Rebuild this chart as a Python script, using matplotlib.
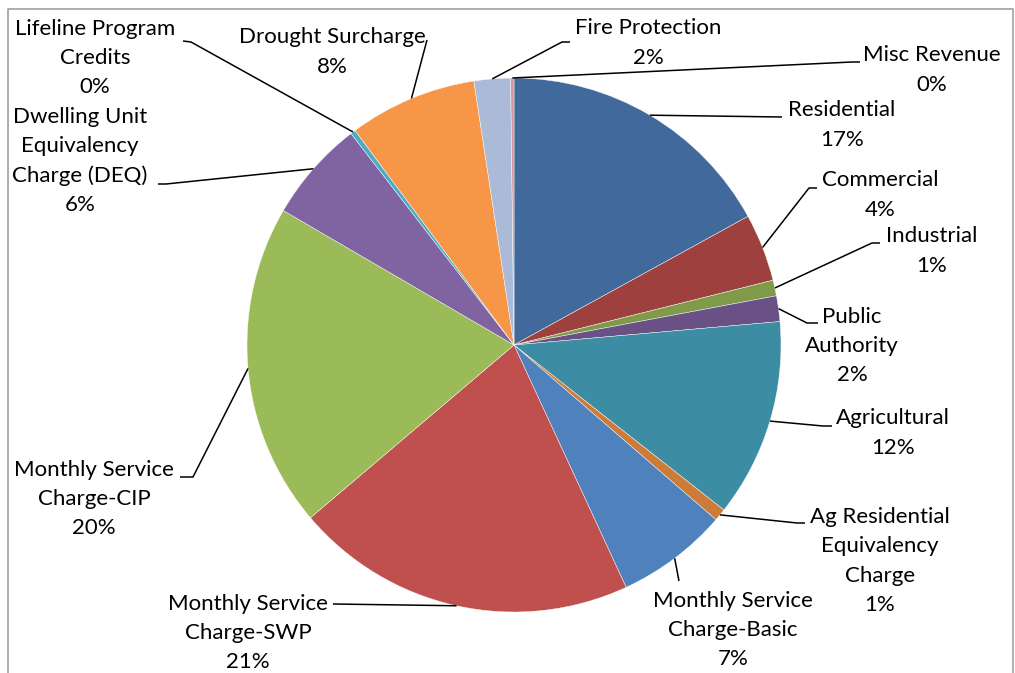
import matplotlib
matplotlib.use('Agg')
import matplotlib.pyplot as plt
import numpy as np

# revenue share by category, in percent (clockwise from 12 o'clock)
categories = [
    "Residential", "Commercial", "Industrial", "Public\nAuthority",
    "Agricultural", "Ag Residential\nEquivalency\nCharge",
    "Monthly Service\nCharge-Basic", "Monthly Service\nCharge-SWP",
    "Monthly Service\nCharge-CIP", "Dwelling Unit\nEquivalency\nCharge (DEQ)",
    "Lifeline Program\nCredits", "Drought Surcharge", "Fire Protection",
    "Misc Revenue",
]
shares = [17.0, 4.1, 0.95, 1.55, 12.0, 0.75, 6.75, 20.7, 19.6, 6.15, 0.3, 7.75, 2.2, 0.2]

colors = ["#41699B", "#9E413E", "#7F9A48", "#695185", "#3C8DA3", "#CC7B38",
          "#4F81BD", "#C0504D", "#9BBB59", "#8064A2", "#4BACC6", "#F79646",
          "#AABAD7", "#D99694"]

W, H = 1015, 673
# label centres and leader elbows, in pixels from the top-left corner
label_pos = [(842, 125), (880, 195), (932, 251), (852, 346), (893, 433),
             (880, 561), (733, 630), (248, 633), (94, 499), (80, 161),
             (95, 58), (332, 52), (648, 43), (932, 70)]
leaders = [
    [(782, 117)],
    [(817, 188), (809, 188)],
    [(880, 243), (872, 243)],
    [(818, 323), (807, 323)],
    [(832, 426), (823, 426)],
    [(805, 523), (797, 523)],
    [(679, 581)],
    [(333, 604)],
    [(180, 477), (193, 477)],
    [(158, 184), (166, 184)],
    [(183, 41), (191, 42)],
    [(427, 40)],
    [(570, 42), (562, 42)],
    [(860, 62), (852, 62)],
]

cx, cy, r = 514, H - 345, 267

fig = plt.figure(figsize=(W / 100, H / 100), dpi=100)
ax = fig.add_axes([0, 0, 1, 1])

wedges, _ = ax.pie(shares, colors=colors, startangle=90, counterclock=False,
                   center=(cx, cy), radius=r,
                   wedgeprops=dict(edgecolor="white", linewidth=0.3))

for w, name, val, (tx, ty), pts in zip(wedges, categories, shares, label_pos, leaders):
    mid = np.deg2rad((w.theta1 + w.theta2) / 2)
    ax_ = cx + r * np.cos(mid)
    ay_ = cy + r * np.sin(mid)
    xs = [p[0] for p in pts] + [ax_]
    ys = [H - p[1] for p in pts] + [ay_]
    ax.plot(xs, ys, color="black", lw=1.1, solid_capstyle="butt")
    ax.text(tx, H - ty, f"{name}\n{round(val)}%", ha="center", va="center",
            multialignment="center", fontsize=16, family="Lato",
            linespacing=1.58, color="black")

# chart border
ax.plot([8, 8, 1013, 1013], [0, H - 9, H - 9, 0], color="#A0A0A0", lw=1.2)

ax.set_xlim(0, W)
ax.set_ylim(0, H)
ax.set_aspect("equal")
ax.axis("off")

fig.savefig("out.png", dpi=100)
